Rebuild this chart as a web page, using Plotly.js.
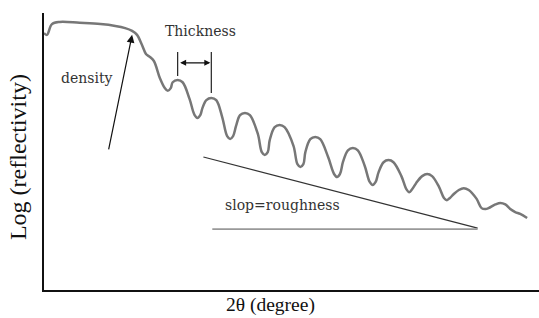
<!DOCTYPE html>
<html>
<head>
<meta charset="utf-8">
<script src="https://cdn.plot.ly/plotly-3.0.1.min.js"></script>
<style>html,body{margin:0;padding:0;background:#fff;}#chart{width:539px;height:318px;}</style>
</head>
<body>
<div id="chart"></div>
<script>
// Reflectivity curve (2θ in degrees, log reflectivity in arbitrary units)
const twoTheta = [0.00,0.03,0.08,0.16,0.36,0.57,0.72,0.82,0.89,0.94,0.99,1.03,1.07,1.11,1.17,
  1.22,1.25,1.28, 1.30,1.35,1.40, 1.47, 1.52,1.55,1.58, 1.60, 1.64,1.69,1.74, 1.80, 1.85,1.88,1.91, 1.94,
  1.98,2.03,2.08, 2.16, 2.20,2.23,2.26, 2.28, 2.33,2.38,2.43, 2.52, 2.56,2.59,2.62, 2.64, 2.69,2.74,2.79,
  2.87, 2.93,2.96,2.99, 3.02, 3.07,3.12,3.17, 3.24, 3.29,3.32,3.35, 3.38, 3.43,3.48,3.53, 3.61, 3.66,3.69,3.72,
  3.76, 3.82,3.87,3.92, 3.99, 4.04,4.07,4.10, 4.14, 4.19,4.24,4.29, 4.37, 4.42,4.46,4.49, 4.56,4.61,4.66,
  4.71,4.76,4.81,4.88];
const logR = [-0.65,-0.71,-0.36,-0.29,-0.32,-0.36,-0.42,-0.49,-0.58,-0.71,-1.04,-1.33,-1.43,-1.56,-2.11,
  -2.44,-2.53,-2.44, -2.25,-2.18,-2.25, -2.79, -3.31,-3.41,-3.31, -3.09, -2.83,-2.76,-2.83, -3.38, -4.00,-4.09,-4.00, -3.67,
  -3.32,-3.25,-3.32, -3.93, -4.52,-4.61,-4.52, -4.13, -3.71,-3.64,-3.71, -4.32, -4.91,-5.00,-4.91, -4.52, -4.10,-4.03,-4.10,
  -4.68, -5.23,-5.33,-5.23, -4.84, -4.46,-4.39,-4.46, -4.97, -5.49,-5.59,-5.49, -5.17, -4.85,-4.78,-4.85, -5.30, -5.72,-5.82,-5.72,
  -5.52, -5.30,-5.23,-5.30, -5.65, -6.01,-6.08,-6.01, -5.88, -5.75,-5.69,-5.75, -6.04, -6.34,-6.37,-6.34, -6.22,-6.17,-6.22,
  -6.37,-6.47,-6.53,-6.66];

// Annotation geometry (data units)
const thicknessPeaks = [1.35, 1.69];
const thicknessTops = [-1.27, -1.27];
const thicknessBottoms = [-2.05, -2.60];
const thicknessArrowY = -1.62;
const densityArrowFrom = [0.65, -4.48];
const densityArrowTo = [0.89, -0.71];
const slopeLineX = [1.61, 4.38];
const slopeLineY = [-4.68, -6.99];
const baseLineX = [1.70, 4.38];
const baseLineY = [-7.02, -7.02];
const labels = ["Thickness", "density", "slop=roughness"];
const labelX = [1.58, 0.43, 2.41];
const labelY = [-0.58, -2.11, -6.24];
const xTitle = "2θ (degree)";
const yTitle = "Log (reflectivity)";

const serif = "Liberation Serif, Times New Roman, serif";
const wideSerif = "DejaVu Serif, serif";

const traces = [{
  x: twoTheta, y: logR, type: "scatter", mode: "lines",
  line: {color: "#777777", width: 2.5, shape: "spline", smoothing: 1},
  hoverinfo: "skip", showlegend: false
}];

const shapes = [];
for (let i = 0; i < thicknessPeaks.length; i++) {
  shapes.push({type: "line", xref: "x", yref: "y", x0: thicknessPeaks[i], x1: thicknessPeaks[i],
    y0: thicknessTops[i], y1: thicknessBottoms[i], line: {color: "#222", width: 1.2}});
}
shapes.push({type: "line", xref: "x", yref: "y", x0: slopeLineX[0], x1: slopeLineX[1], y0: slopeLineY[0], y1: slopeLineY[1], line: {color: "#333", width: 1.2}});
shapes.push({type: "line", xref: "x", yref: "y", x0: baseLineX[0], x1: baseLineX[1], y0: baseLineY[0], y1: baseLineY[1], line: {color: "#999", width: 1.8}});

const annotations = [];
for (let i = 0; i < labels.length; i++) {
  annotations.push({x: labelX[i], y: labelY[i], xref: "x", yref: "y", text: labels[i], showarrow: false,
    font: {family: wideSerif, size: 14, color: "#333"}});
}
annotations.push({x: densityArrowTo[0], y: densityArrowTo[1], ax: densityArrowFrom[0], ay: densityArrowFrom[1],
  xref: "x", yref: "y", axref: "x", ayref: "y", text: "", showarrow: true, arrowhead: 2, arrowsize: 1.3, arrowwidth: 1.2, arrowcolor: "#111"});
annotations.push({x: thicknessPeaks[1], y: thicknessArrowY, ax: thicknessPeaks[0], ay: thicknessArrowY,
  xref: "x", yref: "y", axref: "x", ayref: "y", text: "", showarrow: true, arrowhead: 2, startarrowhead: 2, arrowside: "end+start",
  arrowsize: 1, arrowwidth: 1.2, arrowcolor: "#111", standoff: 1, startstandoff: 1});
// axis titles
annotations.push({x: -0.0525, y: 0.48, xref: "paper", yref: "paper", text: yTitle, textangle: -90, showarrow: false,
  xanchor: "center", yanchor: "middle", font: {family: serif, size: 24, color: "#111"}});
annotations.push({x: 0.457, y: -0.055, xref: "paper", yref: "paper", text: xTitle, showarrow: false,
  xanchor: "center", yanchor: "middle", font: {family: serif, size: 19.5, color: "#111"}});

const layout = {
  width: 539, height: 318,
  margin: {l: 44, r: 0, t: 13, b: 28},
  paper_bgcolor: "#fff", plot_bgcolor: "#fff",
  xaxis: {range: [0, 5], showgrid: false, zeroline: false, showticklabels: false, ticks: "",
    showline: true, linecolor: "#111", linewidth: 2},
  yaxis: {range: [-9, 0], showgrid: false, zeroline: false, showticklabels: false, ticks: "",
    showline: true, linecolor: "#111", linewidth: 2},
  shapes: shapes, annotations: annotations, showlegend: false
};

Plotly.newPlot("chart", traces, layout, {staticPlot: true, displayModeBar: false});
</script>
</body>
</html>
